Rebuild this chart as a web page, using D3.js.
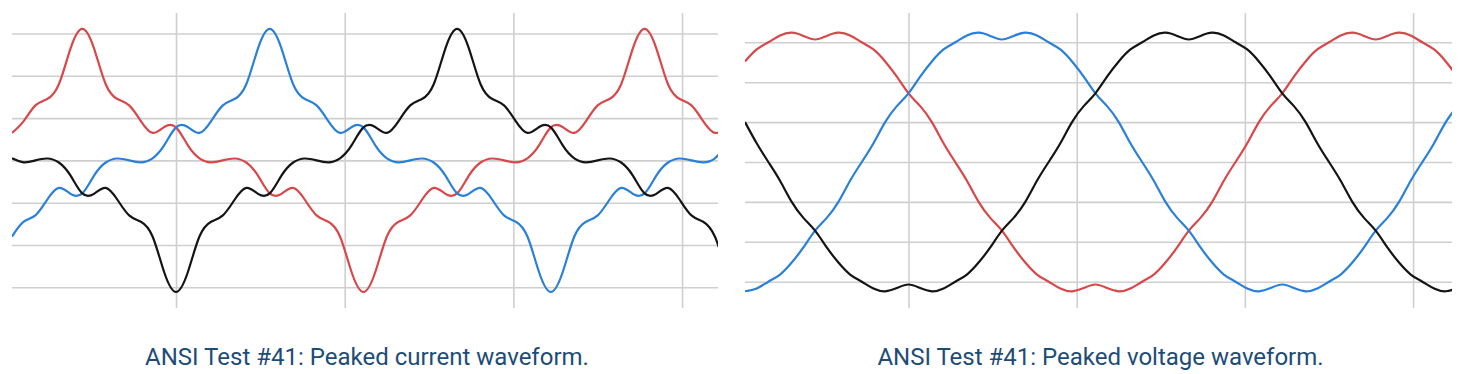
<!DOCTYPE html>
<html>
<head>
<meta charset="utf-8">
<script src="https://cdn.jsdelivr.net/npm/d3@7"></script>
<style>
  body { margin: 0; background: #fff; }
  svg { display: block; }
</style>
</head>
<body>
<div id="chart"></div>
<script>
// phase angle (degrees) of every sample, shared by both panels
var angles = d3.range(0, 458, 7.5);

// peaked current, in grid divisions
var currentRed = [0.65, 0.93, 1.30, 1.45, 1.80, 2.65, 3.11, 2.65, 1.80, 1.45, 1.30, 0.93, 0.65, 0.79, 0.78, 0.36,
  0.05, -0.045, 0, 0.045, -0.05, -0.36, -0.78, -0.79, -0.65, -0.93, -1.30, -1.45, -1.80, -2.65, -3.11, -2.65,
  -1.80, -1.45, -1.30, -0.93, -0.65, -0.79, -0.78, -0.36, -0.05, 0.045, 0, -0.045, 0.05, 0.36, 0.78, 0.79,
  0.65, 0.93, 1.30, 1.45, 1.80, 2.65, 3.11, 2.65, 1.80, 1.45, 1.30, 0.93, 0.65, 0.79];
var currentBlue = [-1.80, -1.45, -1.30, -0.93, -0.65, -0.79, -0.78, -0.36, -0.05, 0.045, 0, -0.045, 0.05, 0.36, 0.78, 0.79,
  0.65, 0.93, 1.30, 1.45, 1.80, 2.65, 3.11, 2.65, 1.80, 1.45, 1.30, 0.93, 0.65, 0.79, 0.78, 0.36,
  0.05, -0.045, 0, 0.045, -0.05, -0.36, -0.78, -0.79, -0.65, -0.93, -1.30, -1.45, -1.80, -2.65, -3.11, -2.65,
  -1.80, -1.45, -1.30, -0.93, -0.65, -0.79, -0.78, -0.36, -0.05, 0.045, 0, -0.045, 0.05, 0.36];
var currentBlack = [0.05, -0.045, 0, 0.045, -0.05, -0.36, -0.78, -0.79, -0.65, -0.93, -1.30, -1.45, -1.80, -2.65, -3.11, -2.65,
  -1.80, -1.45, -1.30, -0.93, -0.65, -0.79, -0.78, -0.36, -0.05, 0.045, 0, -0.045, 0.05, 0.36, 0.78, 0.79,
  0.65, 0.93, 1.30, 1.45, 1.80, 2.65, 3.11, 2.65, 1.80, 1.45, 1.30, 0.93, 0.65, 0.79, 0.78, 0.36,
  0.05, -0.045, 0, 0.045, -0.05, -0.36, -0.78, -0.79, -0.65, -0.93, -1.30, -1.45, -1.80, -2.65];

// peaked voltage, in grid divisions
var voltageRed = [2.52, 2.82, 3.00, 3.17, 3.24, 3.16, 3.07, 3.16, 3.24, 3.17, 3.00, 2.82, 2.52, 2.14, 1.72, 1.40,
  1.00, 0.47, 0, -0.47, -1.00, -1.40, -1.72, -2.14, -2.52, -2.82, -3.00, -3.17, -3.24, -3.16, -3.07, -3.16,
  -3.24, -3.17, -3.00, -2.82, -2.52, -2.14, -1.72, -1.40, -1.00, -0.47, 0, 0.47, 1.00, 1.40, 1.72, 2.14,
  2.52, 2.82, 3.00, 3.17, 3.24, 3.16, 3.07, 3.16, 3.24, 3.17, 3.00, 2.82, 2.52, 2.14];
var voltageBlue = [-3.24, -3.17, -3.00, -2.82, -2.52, -2.14, -1.72, -1.40, -1.00, -0.47, 0, 0.47, 1.00, 1.40, 1.72, 2.14,
  2.52, 2.82, 3.00, 3.17, 3.24, 3.16, 3.07, 3.16, 3.24, 3.17, 3.00, 2.82, 2.52, 2.14, 1.72, 1.40,
  1.00, 0.47, 0, -0.47, -1.00, -1.40, -1.72, -2.14, -2.52, -2.82, -3.00, -3.17, -3.24, -3.16, -3.07, -3.16,
  -3.24, -3.17, -3.00, -2.82, -2.52, -2.14, -1.72, -1.40, -1.00, -0.47, 0, 0.47, 1.00, 1.40];
var voltageBlack = [1.00, 0.47, 0, -0.47, -1.00, -1.40, -1.72, -2.14, -2.52, -2.82, -3.00, -3.17, -3.24, -3.16, -3.07, -3.16,
  -3.24, -3.17, -3.00, -2.82, -2.52, -2.14, -1.72, -1.40, -1.00, -0.47, 0, 0.47, 1.00, 1.40, 1.72, 2.14,
  2.52, 2.82, 3.00, 3.17, 3.24, 3.16, 3.07, 3.16, 3.24, 3.17, 3.00, 2.82, 2.52, 2.14, 1.72, 1.40,
  1.00, 0.47, 0, -0.47, -1.00, -1.40, -1.72, -2.14, -2.52, -2.82, -3.00, -3.17, -3.24, -3.16];

var xGridTicks = [105, 213, 321, 429];
var yGridTicks = [-3, -2, -1, 0, 1, 2, 3];
var captions = ['ANSI Test #41: Peaked current waveform.', 'ANSI Test #41: Peaked voltage waveform.'];
var colors = {red: '#d8474a', blue: '#2a80d8', black: '#141414'};

var svg = d3.select('#chart').append('svg')
  .attr('width', 1470)
  .attr('height', 374);

function drawPanel(id, left, right, xMax, yTop, yBottom, series, caption) {
  var xscale = d3.scaleLinear().domain([0, xMax]).range([left, right]);
  var yscale = d3.scaleLinear().domain([-3, 3]).range([yBottom, yTop]);

  var g = svg.append('g');

  // horizontal grid
  var yaxis = d3.axisLeft(yscale).tickValues(yGridTicks).tickSize(-(right - left)).tickFormat('');
  var yguide = g.append('g').attr('transform', 'translate(' + left + ',0)');
  yaxis(yguide);
  yguide.select('.domain').remove();
  yguide.selectAll('line').style('stroke', '#cfcfcf').style('stroke-width', 1.6);

  // vertical grid
  var xaxis = d3.axisBottom(xscale).tickValues(xGridTicks).tickSize(-(308 - 13)).tickFormat('');
  var xguide = g.append('g').attr('transform', 'translate(0,308)');
  xaxis(xguide);
  xguide.select('.domain').remove();
  xguide.selectAll('line').style('stroke', '#cfcfcf').style('stroke-width', 1.6);

  svg.append('clipPath').attr('id', id)
    .append('rect')
    .attr('x', left).attr('y', 0)
    .attr('width', right - left).attr('height', 330);

  var line = d3.line()
    .x(function(d, i) { return xscale(angles[i]); })
    .y(function(d) { return yscale(d); })
    .curve(d3.curveNatural);

  series.forEach(function(s) {
    g.append('path')
      .attr('clip-path', 'url(#' + id + ')')
      .attr('d', line(s.values))
      .style('fill', 'none')
      .style('stroke', s.color)
      .style('stroke-width', 2.2)
      .style('stroke-linejoin', 'round');
  });

  g.append('text')
    .attr('x', (left + right) / 2 + 2)
    .attr('y', 365)
    .attr('text-anchor', 'middle')
    .style('font-family', 'Roboto, sans-serif')
    .style('font-size', '24px')
    .style('fill', '#1d4c77')
    .text(caption);
}

drawPanel('clipL', 12, 718, 452, 33.5, 287.3, [
  {values: currentRed, color: colors.red},
  {values: currentBlue, color: colors.blue},
  {values: currentBlack, color: colors.black}
], captions[0]);

drawPanel('clipR', 745, 1452, 454, 42.3, 281.7, [
  {values: voltageRed, color: colors.red},
  {values: voltageBlue, color: colors.blue},
  {values: voltageBlack, color: colors.black}
], captions[1]);
</script>
</body>
</html>
